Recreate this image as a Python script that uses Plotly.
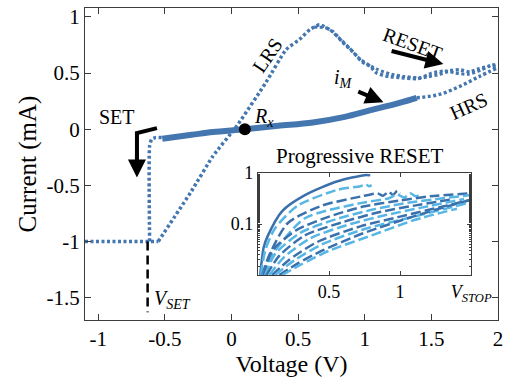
import plotly.graph_objects as go

# ---------------- main data ----------------
flat_v = [-1.1, -0.55]
flat_i = [-1.0, -1.0]
lrs_v = [-0.55, -0.30, -0.14, 0.04, 0.26, 0.41, 0.51, 0.59, 0.66, 0.76, 0.83, 0.91, 0.98, 1.04, 1.09, 1.18, 1.26, 1.39, 1.48, 1.56, 1.64, 1.71, 1.79, 1.86, 1.93, 2.0]
lrs_i = [-1.0, -0.55, -0.24, 0.03, 0.42, 0.71, 0.80, 0.89, 0.93, 0.87, 0.78, 0.69, 0.60, 0.56, 0.50, 0.47, 0.46, 0.45, 0.47, 0.49, 0.52, 0.53, 0.51, 0.54, 0.56, 0.56]
reset2_v = [0.62, 0.72, 0.80, 0.88, 0.95, 1.02, 1.10, 1.20, 1.30, 1.42, 1.50, 1.60, 1.68, 1.78, 1.88, 1.95, 2.0]
reset2_i = [0.91, 0.90, 0.82, 0.73, 0.64, 0.58, 0.53, 0.49, 0.47, 0.46, 0.50, 0.52, 0.50, 0.49, 0.53, 0.57, 0.58]
set_v = [-0.615, -0.615, -0.60, -0.57, -0.52]
set_i = [-1.0, -0.15, -0.09, -0.075, -0.075]
im_v = [-0.52, -0.30, -0.14, 0.10, 0.35, 0.61, 0.85, 1.03, 1.26, 1.39]
im_i = [-0.085, -0.05, -0.025, 0.0, 0.03, 0.06, 0.11, 0.165, 0.235, 0.28]
hrs_v = [1.39, 1.56, 1.71, 1.86, 2.0]
hrs_i = [0.28, 0.31, 0.38, 0.47, 0.55]
rx_v = [0.10]
rx_i = [0.0]
vset_v = [-0.63, -0.63]
vset_i = [-1.0, -1.63]

x_ticks = [-1, -0.5, 0, 0.5, 1, 1.5, 2]
x_ticktext = ["-1", "-0.5", "0", "0.5", "1", "1.5", "2"]
y_ticks = [-1.5, -1, -0.5, 0, 0.5, 1]
y_ticktext = ["-1.5", "-1", "-0.5", "0", "0.5", "1"]

# ---------------- inset data (Progressive RESET) ----------------
inset_v = [
    [0.015, 0.04, 0.07, 0.17, 0.33, 0.56, 0.75, 0.79],
    [0.02, 0.05, 0.12, 0.28, 0.56, 0.72, 0.76, 0.78, 0.80],
    [0.03, 0.08, 0.21, 0.45, 0.73, 0.84, 0.88, 0.92, 0.95, 0.98, 1.0],
    [0.035, 0.10, 0.33, 0.73, 0.92, 0.98, 1.03, 1.07, 1.11, 1.15],
    [0.04, 0.10, 0.27, 0.50, 0.74, 1.0, 1.21, 1.5],
    [0.05, 0.12, 0.30, 0.55, 0.80, 1.05, 1.30, 1.5],
    [0.06, 0.15, 0.33, 0.60, 0.85, 1.10, 1.35],
    [0.08, 0.18, 0.37, 0.65, 0.90, 1.15, 1.45],
    [0.10, 0.22, 0.42, 0.72, 1.0, 1.30, 1.5],
    [0.12, 0.25, 0.45, 0.75, 1.05, 1.35, 1.5],
    [0.15, 0.28, 0.45, 0.74, 1.09, 1.35, 1.5],
    [0.17, 0.30, 0.50, 0.80, 1.10, 1.40],
]
inset_i = [
    [0.01, 0.035, 0.06, 0.18, 0.37, 0.69, 0.91, 0.90],
    [0.01, 0.03, 0.083, 0.23, 0.47, 0.55, 0.60, 0.55, 0.58],
    [0.01, 0.025, 0.105, 0.23, 0.35, 0.40, 0.36, 0.43, 0.37, 0.45, 0.40],
    [0.01, 0.025, 0.13, 0.26, 0.32, 0.38, 0.33, 0.40, 0.35, 0.39],
    [0.01, 0.03, 0.076, 0.14, 0.22, 0.29, 0.35, 0.40],
    [0.01, 0.026, 0.068, 0.125, 0.19, 0.26, 0.32, 0.37],
    [0.01, 0.024, 0.06, 0.11, 0.17, 0.23, 0.30],
    [0.01, 0.022, 0.053, 0.10, 0.15, 0.21, 0.31],
    [0.01, 0.02, 0.045, 0.09, 0.14, 0.22, 0.30],
    [0.01, 0.019, 0.04, 0.08, 0.13, 0.21, 0.27],
    [0.01, 0.017, 0.03, 0.066, 0.14, 0.23, 0.30],
    [0.01, 0.016, 0.03, 0.06, 0.12, 0.20],
]
inset_xticks = [0.5, 1, 1.5]
inset_xticktext = ["0.5", "1", "<i>V</i><sub><i>STOP</i></sub>"]
inset_yticks = [0.1, 1]
inset_yticktext = ["0.1", "1"]

BLUE = "rgb(68,118,176)"
DARK = "rgb(58,112,172)"
LIGHT = "rgb(88,182,228)"
AX = "rgb(60,60,60)"
FONT = "'Liberation Serif', 'DejaVu Serif', serif"

fig = go.Figure()
dot = "3px,2.5px"
fig.add_trace(go.Scatter(x=flat_v, y=flat_i, mode="lines", line=dict(color=BLUE, width=3.5, dash=dot)))
fig.add_trace(go.Scatter(x=lrs_v, y=lrs_i, mode="lines", line=dict(color=BLUE, width=3.5, dash=dot, shape="spline", smoothing=0.5)))
fig.add_trace(go.Scatter(x=reset2_v, y=reset2_i, mode="lines", line=dict(color=BLUE, width=3, dash=dot, shape="spline", smoothing=0.6)))
fig.add_trace(go.Scatter(x=set_v, y=set_i, mode="lines", line=dict(color=BLUE, width=3.5, dash=dot, shape="spline", smoothing=0.5)))
fig.add_trace(go.Scatter(x=hrs_v, y=hrs_i, mode="lines", line=dict(color=BLUE, width=3.5, dash=dot, shape="spline")))
fig.add_trace(go.Scatter(x=im_v, y=im_i, mode="lines", line=dict(color=BLUE, width=6, shape="spline")))
fig.add_trace(go.Scatter(x=vset_v, y=vset_i, mode="lines", line=dict(color="black", width=2.5, dash="9px,5px")))
fig.add_trace(go.Scatter(x=rx_v, y=rx_i, mode="markers", marker=dict(color="black", size=12)))

for k, (vv, ii) in enumerate(zip(inset_v, inset_i)):
    col = DARK if k % 2 == 0 else LIGHT
    dash = "solid" if k == 0 else "10px,4px"
    fig.add_trace(go.Scatter(x=vv, y=ii, mode="lines", xaxis="x2", yaxis="y2",
                             line=dict(color=col, width=2.5, dash=dash, shape="spline", smoothing=0.7)))

axis_common = dict(showline=True, linecolor=AX, linewidth=1.3, mirror="ticks", ticks="inside",
                   tickcolor=AX, showgrid=False, zeroline=False, automargin=False)
fig.update_layout(
    width=505, height=386, margin=dict(l=85, r=7, t=8, b=66),
    paper_bgcolor="white", plot_bgcolor="white", showlegend=False,
    font=dict(family=FONT, color="black", size=21),
    xaxis=dict(range=[-1.1, 2.0], tickvals=x_ticks, ticktext=x_ticktext, ticklen=6,
               tickfont=dict(family=FONT, size=21),
               title=dict(text="Voltage (V)", font=dict(family=FONT, size=24), standoff=4), **axis_common),
    yaxis=dict(range=[-1.7, 1.08], tickvals=y_ticks, ticktext=y_ticktext, ticklen=6,
               tickfont=dict(family=FONT, size=21),
               title=dict(text="Current (mA)", font=dict(family=FONT, size=25), standoff=2), **axis_common),
    xaxis2=dict(domain=[0.419, 0.935], anchor="y2", range=[0, 1.5], tickvals=inset_xticks,
                ticktext=inset_xticktext, ticklen=4, tickfont=dict(family=FONT, size=18), **axis_common),
    yaxis2=dict(domain=[0.144, 0.471], anchor="x2", type="log", range=[-2, 0], tickvals=inset_yticks,
                ticktext=inset_yticktext, ticklen=4, tickfont=dict(family=FONT, size=18),
                minor=dict(ticks="inside", ticklen=2, tickcolor=AX), **axis_common),
)

ann = []
def txt(x, y, t, size=20, angle=0, xref="x", yref="y"):
    ann.append(dict(x=x, y=y, xref=xref, yref=yref, text=t, showarrow=False, textangle=angle,
                    xanchor="center", yanchor="middle",
                    font=dict(size=size, family=FONT, color="black")))

txt(0.27, 0.66, "LRS", angle=-56)
txt(1.36, 0.76, "RESET", angle=20)
txt(1.78, 0.21, "HRS", angle=-24)
txt(0.84, 0.45, "<i>i</i><sub><i>M</i></sub>")
txt(0.24, 0.10, "<i>R</i><sub><i>x</i></sub>")
txt(-0.86, 0.11, "SET")
txt(-0.44, -1.52, "<i>V</i><sub><i>SET</i></sub>")
txt(0.667, 0.525, "Progressive RESET", size=21, xref="paper", yref="paper")

def arrow(x0, y0, x1, y1):
    ann.append(dict(x=x1, y=y1, ax=x0, ay=y0, xref="x", yref="y", axref="x", ayref="y",
                    showarrow=True, arrowhead=2, arrowsize=0.9, arrowwidth=4, arrowcolor="black",
                    text="", font=dict(size=1)))

arrow(1.19, 0.70, 1.59, 0.58)
arrow(0.94, 0.34, 1.14, 0.24)
arrow(-0.71, -0.2, -0.71, -0.43)
fig.update_layout(annotations=ann)
fig.add_shape(type="path", path="M -0.56,0.01 L -0.71,-0.035 L -0.71,-0.3", xref="x", yref="y",
              line=dict(color="black", width=4))

fig.write_html("out.html")
